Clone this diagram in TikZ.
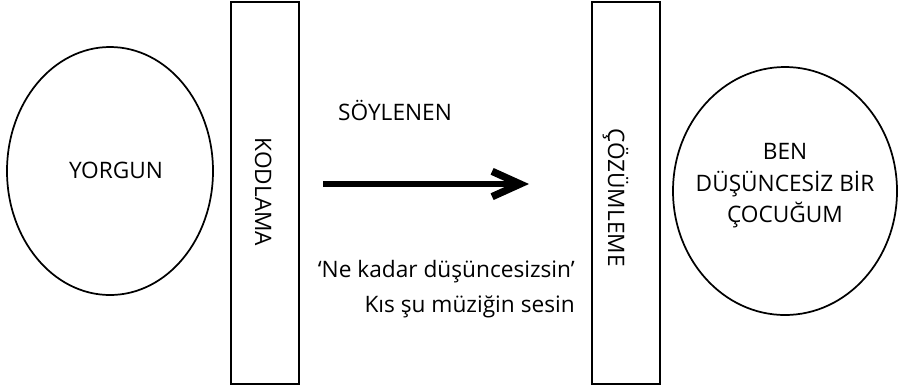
\documentclass[tikz,border=0pt]{standalone}
\usepackage{fontspec}
\setmainfont{Open Sans}
\usetikzlibrary{shapes.geometric,arrows.meta}

\begin{document}
\begin{tikzpicture}[x=0.75pt,y=-0.75pt,
  yazi/.style={font=\fontsize{17}{23.6}\selectfont,inner sep=0pt},
  kutu/.style={draw,line width=1.5pt,minimum width=51pt,minimum height=286.5pt,inner sep=0pt},
  balon/.style={draw,ellipse,line width=1.3pt,inner sep=0pt}]
\useasboundingbox (0,0) rectangle (898,390);

% gonderen
\node[balon,minimum width=154.5pt,minimum height=186pt] (yorgun) at (110,171) {};
\node[yazi,anchor=base] (yorgunyazi) at (116,178) {YORGUN};

% kodlama
\node[kutu] (kodlama) at (265,193) {};
\node[yazi,rotate=-90,anchor=base] (kodlamayazi) at (255,192) {KODLAMA};

% mesaj
\node[yazi,anchor=base] (soylenen) at (395,120) {SÖYLENEN};
\coordinate (okbas) at (323,184);
\coordinate (okuc) at (529,184);
\draw[line width=4pt,-{Straight Barb[length=21pt,width=19pt,line width=5.5pt]}] (okbas) -- (okuc);
\node[yazi,anchor=base east] (mesaj1) at (575,277) {‘Ne kadar düşüncesizsin’};
\node[yazi,anchor=base east] (mesaj2) at (575,312) {Kıs şu müziğin sesin};

% cozumleme
\node[kutu] (cozumleme) at (626,193) {};
\node[yazi,rotate=-90,anchor=base] (cozumlemeyazi) at (608,197.5) {ÇÖZÜMLEME};

% alici
\node[balon,minimum width=168pt,minimum height=186pt] (alici) at (785,191) {};
\node[yazi,align=center] (aliciyazi) at (785,186) {BEN\\DÜŞÜNCESİZ BİR\\ÇOCUĞUM};

\end{tikzpicture}
\end{document}
